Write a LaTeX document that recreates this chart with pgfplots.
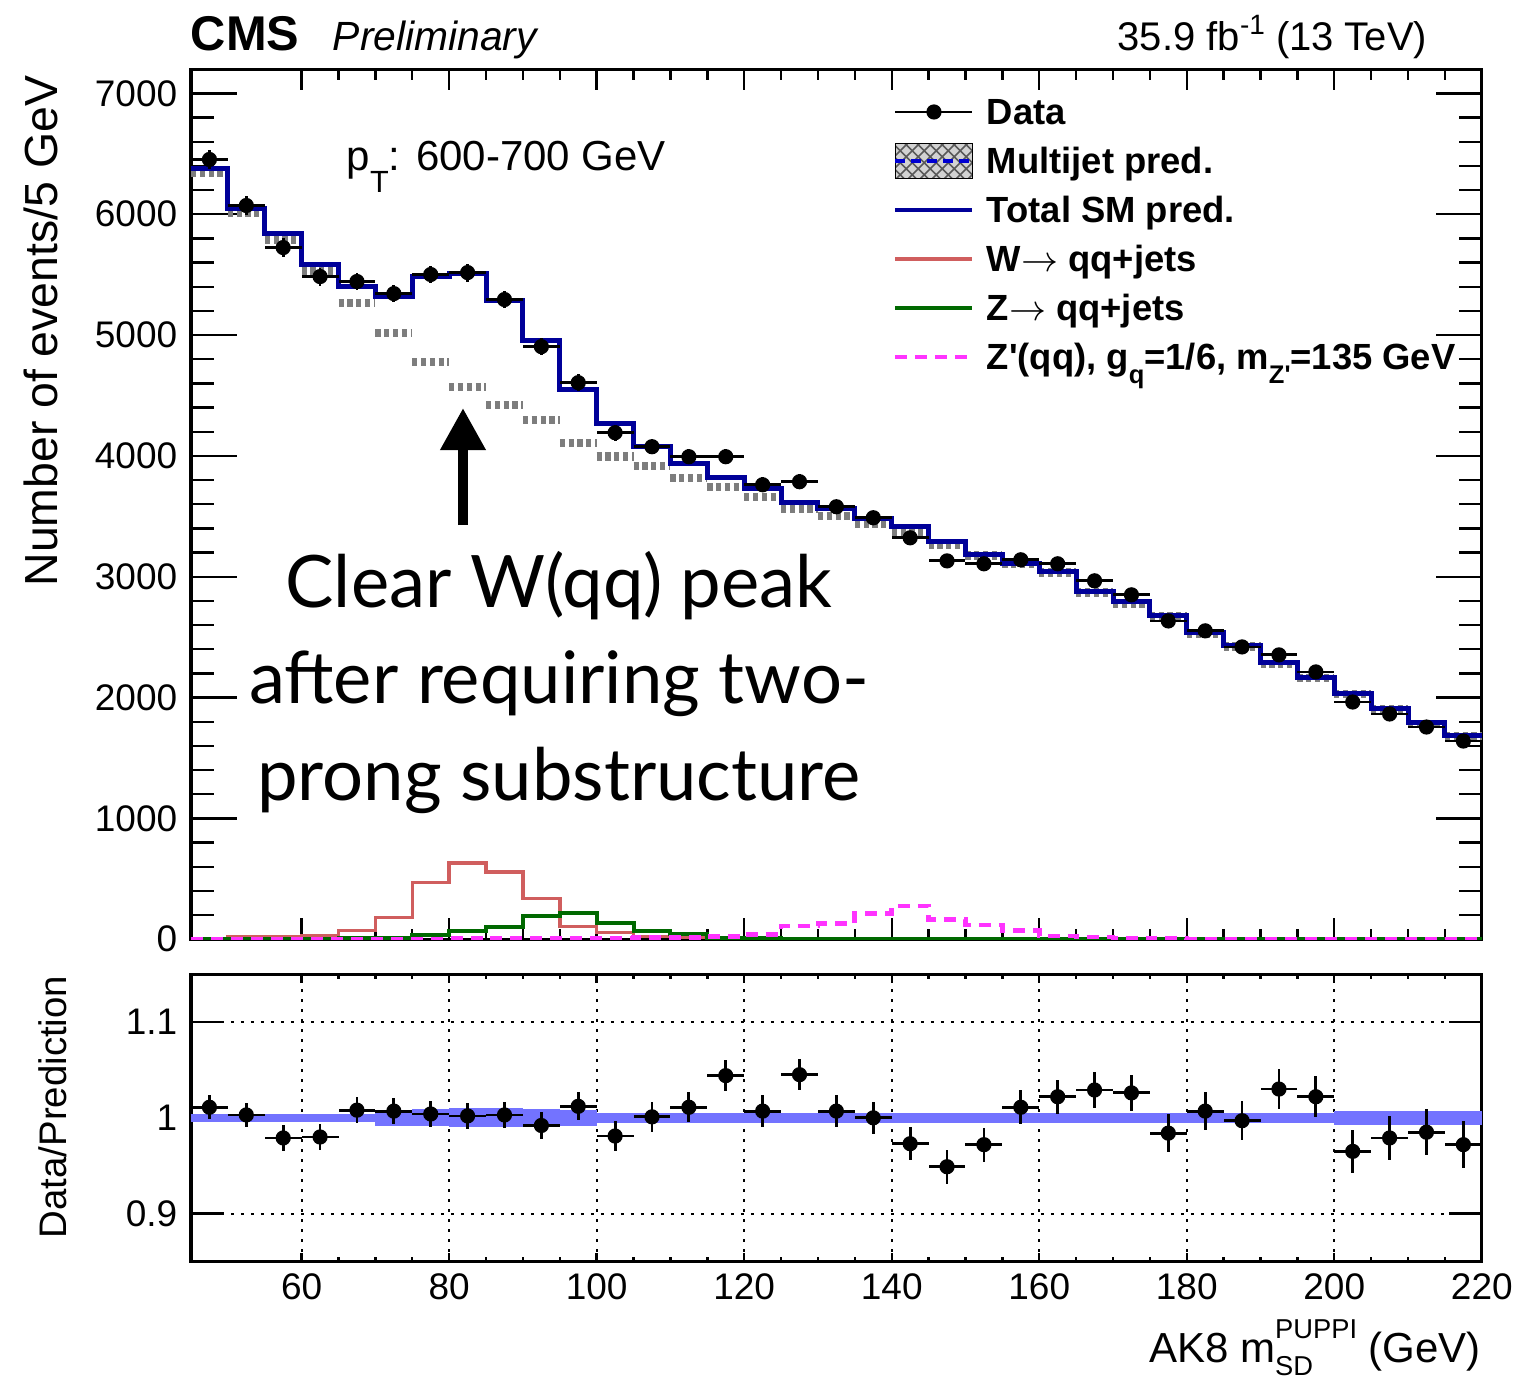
\documentclass[border=0pt]{standalone}
\usepackage{fontspec}
\setmainfont{Liberation Sans}
\newfontfamily\annfont{Lato}
\usepackage{amsmath}
\usepackage{graphicx}
\usepackage{pgfplots}
\usepackage{pgfplotstable}
\pgfplotsset{compat=1.18}
\usetikzlibrary{arrows.meta,patterns}
\definecolor{totblue}{RGB}{0,0,153}
\definecolor{wred}{RGB}{208,94,94}
\definecolor{zgreen}{RGB}{0,105,0}
\definecolor{zpmag}{RGB}{255,51,255}
\definecolor{mjgray}{RGB}{125,125,125}
\definecolor{mjblue}{RGB}{0,0,210}
\definecolor{bandblue}{RGB}{115,115,255}
\newcommand{\lsub}[1]{\raisebox{-3.5pt}{\scalebox{0.7}{#1}}}

\pgfplotstableread{
x data ed ratio er
47.5 6453 80 1.011 0.0125
52.5 6072 78 1.003 0.0128
57.5 5724 76 0.979 0.0132
62.5 5484 74 0.980 0.0135
67.5 5443 74 1.008 0.0136
72.5 5343 73 1.007 0.0137
77.5 5501 74 1.004 0.0135
82.5 5517 74 1.002 0.0135
87.5 5294 73 1.003 0.0137
92.5 4904 70 0.992 0.0143
97.5 4606 68 1.012 0.0147
102.5 4192 65 0.981 0.0155
107.5 4076 64 1.001 0.0157
112.5 3993 63 1.011 0.0158
117.5 3993 63 1.044 0.0158
122.5 3761 61 1.007 0.0163
127.5 3786 62 1.045 0.0163
132.5 3579 60 1.007 0.0167
137.5 3488 59 1.000 0.0169
142.5 3322 58 0.973 0.0174
147.5 3131 56 0.949 0.0179
152.5 3107 56 0.972 0.0179
157.5 3140 56 1.011 0.0179
162.5 3107 56 1.022 0.0179
167.5 2966 54 1.029 0.0184
172.5 2850 53 1.026 0.0187
177.5 2634 51 0.984 0.0195
182.5 2552 51 1.007 0.0198
187.5 2419 49 0.997 0.0203
192.5 2353 49 1.030 0.0206
197.5 2212 47 1.022 0.0213
202.5 1963 44 0.965 0.0226
207.5 1864 43 0.979 0.0232
212.5 1756 42 0.985 0.0239
217.5 1640 40 0.972 0.0247
}\pts

\pgfplotstableread{
lo tot mj w z zp
45 6379 6341 5 3 0
50 6048 6009 18 3 0
55 5840 5786 20 4 0
60 5584 5529 25 5 0
65 5401 5265 74 8 0
70 5320 5016 179 14 0
75 5485 4776 468 33 0
80 5509 4569 630 69 3
85 5285 4420 555 102 8
90 4954 4296 335 193 8
95 4548 4106 105 215 8
100 4271 3995 55 138 10
105 4075 3915 22 69 14
110 3940 3818 12 47 14
115 3824 3741 6 14 22
120 3733 3658 4 14 41
125 3612 3561 3 5 110
130 3568 3500 2 3 129
135 3485 3436 1 3 212
140 3413 3359 1 3 275
145 3294 3265 1 2 165
150 3187 3174 1 2 118
155 3112 3105 1 2 74
160 3040 3035 1 2 27
165 2875 2868 1 2 19
170 2795 2772 1 2 8
175 2676 2670 1 2 3
180 2540 2528 1 2 1
185 2430 2421 1 2 1
190 2287 2280 1 2 1
195 2168 2160 1 2 1
200 2036 2030 1 2 1
205 1910 1900 1 2 1
210 1790 1780 1 2 1
215 1684 1680 1 2 1
220 1684 1680 1 2 1
}\steps

\begin{document}
\begin{tikzpicture}
\useasboundingbox (0,0) rectangle (378.25pt,-343.75pt);

% ---------------- top panel ----------------
\begin{axis}[
  at={(47.75pt,-17.3pt)}, anchor=north west,
  width=322.7pt, height=217.5pt, scale only axis,
  xmin=45, xmax=220, ymin=0, ymax=7200,
  xtick={60,80,...,220}, minor x tick num=3, xticklabels={},
  ytick={0,1000,...,7000}, minor y tick num=4,
  tick align=inside, tick pos=both,
  axis line style={line width=0.75pt},
  every tick/.append style={black, line width=0.6pt},
  xtick style={/pgfplots/major tick length=5.25pt,/pgfplots/minor tick length=2.6pt},
  ytick style={/pgfplots/major tick length=11.5pt,/pgfplots/minor tick length=5.75pt},
  tick label style={font=\fontsize{9.25}{11}\selectfont},
  /pgf/number format/assume math mode=true,
  yticklabel style={/pgf/number format/1000 sep={}, inner sep=0pt, xshift=-3.25pt},
  legend style={at={(axis description cs:0.5439,0.9727)}, anchor=north west,
    draw=none, fill=none, inner sep=0pt, outer sep=0pt,
    font=\fontsize{9.1}{10}\selectfont\bfseries,
    row sep=2.75pt, column sep=3pt,
    nodes={inner sep=0pt, text height=8pt, text depth=1.5pt}},
  legend cell align=left,
]
\addlegendimage{legend image code/.code={
  \draw[black, line width=0.6pt] (0pt,0pt) -- (19.25pt,0pt);
  \fill[black] (9.625pt,0pt) circle (1.7pt);}}
\addlegendentry{Data}
\addlegendimage{legend image code/.code={
  \fill[gray!35] (0pt,-4.4pt) rectangle (19.25pt,4.4pt);
  \fill[pattern=crosshatch, pattern color=gray!70!black] (0pt,-4.4pt) rectangle (19.25pt,4.4pt);
  \draw[mjblue, line width=0.8pt, dash pattern=on 2.5pt off 1.5pt] (0pt,0pt) -- (19.25pt,0pt);}}
\addlegendentry{Multijet pred.}
\addlegendimage{legend image code/.code={
  \draw[totblue, line width=1.1pt] (0pt,0pt) -- (19.25pt,0pt);}}
\addlegendentry{Total SM pred.}
\addlegendimage{legend image code/.code={
  \draw[wred, line width=1.1pt] (0pt,0pt) -- (19.25pt,0pt);}}
\addlegendentry{W$\rightarrow$ qq+jets}
\addlegendimage{legend image code/.code={
  \draw[zgreen, line width=1.1pt] (0pt,0pt) -- (19.25pt,0pt);}}
\addlegendentry{Z$\rightarrow$ qq+jets}
\addlegendimage{legend image code/.code={
  \draw[zpmag, line width=1.2pt, dash pattern=on 3pt off 2pt] (0pt,0pt) -- (19.25pt,0pt);}}
\addlegendentry{Z\textquotesingle(qq), g\lsub{q}=1/6, m\lsub{Z\textquotesingle}=135 GeV}

\addplot[jump mark left, mjgray, line width=2.1pt, dash pattern=on 1.3pt off 0.9pt, forget plot] table[x=lo, y=mj] {\steps};
\addplot[const plot, totblue, line width=1.25pt, forget plot] table[x=lo, y=tot] {\steps};
\addplot[const plot, wred, line width=0.85pt, forget plot] table[x=lo, y=w] {\steps};
\addplot[const plot, zgreen, line width=1pt, forget plot] table[x=lo, y=z] {\steps};
\addplot[const plot, zpmag, line width=1.2pt, dash pattern=on 3pt off 2pt, forget plot] table[x=lo, y=zp] {\steps};
\addplot[only marks, mark=*, mark size=1.7pt, black, forget plot,
  error bars/.cd, x dir=both, x fixed=2.5, y dir=both, y explicit,
  error bar style={line width=0.7pt, black}, error mark=none]
  table[x=x, y=data, y error=ed] {\pts};
\end{axis}

% ---------------- ratio panel ----------------
\begin{axis}[
  at={(47.75pt,-243.5pt)}, anchor=north west,
  width=322.7pt, height=71.9pt, scale only axis,
  xmin=45, xmax=220, ymin=0.85, ymax=1.15,
  xtick={60,80,...,220}, minor x tick num=3,
  ytick={0.9,1,1.1},
  tick align=inside, tick pos=both,
  axis line style={line width=0.75pt},
  every tick/.append style={black, line width=0.6pt},
  xtick style={/pgfplots/major tick length=2.25pt,/pgfplots/minor tick length=1.25pt},
  ytick style={/pgfplots/major tick length=8.25pt},
  grid=major,
  major grid style={black, line width=0.5pt, dash pattern=on 0.7pt off 1.8pt},
  tick label style={font=\fontsize{9.25}{11}\selectfont},
  /pgf/number format/assume math mode=true,
  yticklabel style={inner sep=0pt, xshift=-3.25pt},
  xticklabel style={inner sep=0pt, yshift=-2.75pt},
]
\addplot[bandblue, line width=1.92pt] coordinates {(45,1) (70,1)};
\addplot[bandblue, line width=3.84pt] coordinates {(70,1) (75,1)};
\addplot[bandblue, line width=4.32pt] coordinates {(75,1) (80,1)};
\addplot[bandblue, line width=4.8pt] coordinates {(80,1) (90,1)};
\addplot[bandblue, line width=4.32pt] coordinates {(90,1) (95,1)};
\addplot[bandblue, line width=3.84pt] coordinates {(95,1) (100,1)};
\addplot[bandblue, line width=2.4pt] coordinates {(100,1) (200,1)};
\addplot[bandblue, line width=3.36pt] coordinates {(200,1) (220,1)};
\addplot[only marks, mark=*, mark size=1.7pt, black,
  error bars/.cd, x dir=both, x fixed=2.5, y dir=both, y explicit,
  error bar style={line width=0.7pt, black}, error mark=none]
  table[x=x, y=ratio, y error=er] {\pts};
\end{axis}

% ---------------- texts ----------------
\node[anchor=base west, inner sep=0pt, font=\fontsize{12.2}{14}\selectfont\bfseries] at (47.5pt,-12.5pt) {CMS};
\node[anchor=base west, inner sep=0pt, font=\fontsize{10.2}{12}\selectfont\itshape] at (83pt,-12.5pt) {Preliminary};
\node[anchor=base east, inner sep=0pt, font=\fontsize{10}{12}\selectfont] at (357pt,-12.5pt) {35.9 fb\raisebox{4pt}{\scalebox{0.7}{-1}} (13 TeV)};
\node[anchor=base west, inner sep=0pt, font=\fontsize{10.5}{12}\selectfont] at (86.5pt,-42.5pt) {p\raisebox{-5.5pt}{\scalebox{0.73}{T}}: 600-700 GeV};

\node[rotate=90, anchor=base east, inner sep=0pt, font=\fontsize{11.6}{13}\selectfont] at (14.25pt,-18.75pt) {Number of events/5 GeV};
\node[rotate=90, anchor=base east, inner sep=0pt, font=\fontsize{9.6}{12}\selectfont] at (16.5pt,-243.75pt) {Data/Prediction};
\node[anchor=base east, inner sep=0pt, font=\fontsize{10.5}{12}\selectfont] at (370.4pt,-340.5pt) {AK8 m\rlap{\raisebox{-3.25pt}{\scalebox{0.65}{SD}}}\raisebox{6pt}{\scalebox{0.65}{PUPPI}} (GeV)};

\draw[black, line width=2.5pt, -{Triangle[width=10.75pt,length=10.5pt]}] (115.75pt,-131.25pt) -- (115.75pt,-102pt);
\node[anchor=base, inner sep=0pt, font=\annfont\fontsize{18.1}{20}\selectfont] at (139.75pt,-151.75pt) {Clear W(qq) peak};
\node[anchor=base, inner sep=0pt, font=\annfont\fontsize{18.1}{20}\selectfont] at (139.75pt,-175.75pt) {after requiring two-};
\node[anchor=base, inner sep=0pt, font=\annfont\fontsize{18.1}{20}\selectfont] at (139.75pt,-200pt) {prong substructure};
\end{tikzpicture}
\end{document}
